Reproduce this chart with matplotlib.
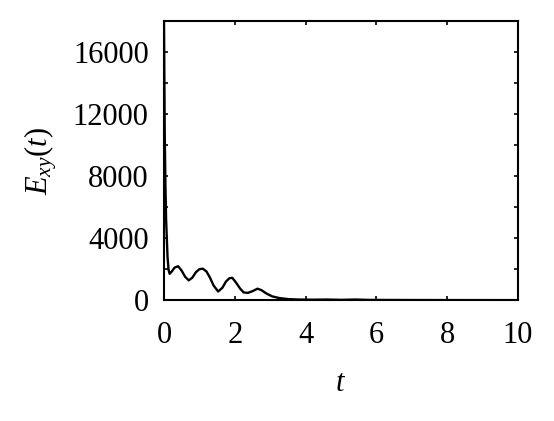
import numpy as np
import matplotlib
matplotlib.use("Agg")
import matplotlib.pyplot as plt
from matplotlib.ticker import MultipleLocator

plt.rcParams['font.family'] = ['Liberation Serif', 'DejaVu Serif']
plt.rcParams['mathtext.fontset'] = 'custom'
plt.rcParams['mathtext.rm'] = 'Liberation Serif'
plt.rcParams['mathtext.it'] = 'Liberation Serif:italic'

# values
t = [0, 0.02, 0.04, 0.06, 0.08, 0.10, 0.13, 0.16, 0.22, 0.30, 0.40, 0.50,
     0.60, 0.70, 0.80, 0.90, 1.00, 1.10, 1.20, 1.30, 1.40, 1.53, 1.65, 1.75,
     1.85, 1.93, 2.03, 2.15, 2.25, 2.37, 2.50, 2.64, 2.75, 2.90, 3.05, 3.25,
     3.50, 3.80, 4.20, 4.60, 5.00, 5.40, 5.80, 6.5, 7.5, 8.5, 10]
exy = [18000, 11000, 7500, 5200, 4000, 2800, 1950, 1700, 1850, 2100, 2190, 1900,
       1500, 1280, 1450, 1800, 2000, 2030, 1850, 1450, 950, 560, 800, 1200,
       1420, 1440, 1150, 750, 500, 470, 580, 740, 650, 420, 250, 140,
       70, 40, 30, 40, 20, 40, 15, 10, 5, 3, 2]

fig = plt.figure(figsize=(5.54, 4.21), dpi=100)
ax = fig.add_axes([0.296, 0.287, 0.639, 0.663])
ax.plot(t, exy, color='black', lw=1.7)

ax.set_xlim(0, 10)
ax.set_ylim(0, 18000)
ax.set_xticks([0, 2, 4, 6, 8, 10])
ax.set_yticks([0, 4000, 8000, 12000, 16000])
ax.yaxis.set_minor_locator(MultipleLocator(2000))
ax.tick_params(which='both', direction='in', top=True, right=True,
               labelsize=22, length=3, width=1.2)
ax.tick_params(axis='x', pad=15)
ax.tick_params(axis='y', pad=11)
for s in ax.spines.values():
    s.set_linewidth(1.5)

ax.set_xlabel('$t$', fontsize=22, labelpad=14)
ax.set_ylabel('$E_{xy}(t)$', fontsize=22, labelpad=10)

fig.savefig('out.png', dpi=100)
